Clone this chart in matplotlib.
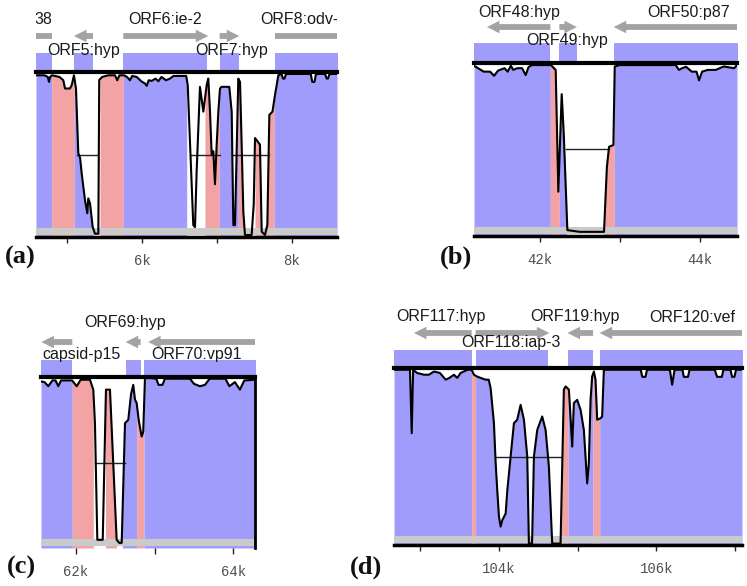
import numpy as np
import matplotlib
matplotlib.use('Agg')
import matplotlib.pyplot as plt
from matplotlib.patches import FancyArrowPatch

BLUE = '#a09cfc'
PINK = '#f3a3a3'
ARROW_GREY = '#a3a3a3'
BAR_GREY = '#cacaca'

# ---------------- panel (a) ----------------
a_xlim = (4587, 8600)
a_gene_start = [4300, 5093, 5751, 7035, 7773]
a_gene_end = [4800, 5347, 6884, 7297, 9300]
a_gene_strand = ['-', '-', '+', '+', '+']
a_labels = ['38', 'ORF5:hyp', 'ORF6:ie-2', 'ORF7:hyp', 'ORF8:odv-']
a_label_x = [4680, 5220, 6310, 7190, 8100]
a_label_row = ['top', 'low', 'top', 'low', 'top']
a_band_start = [4500, 5093, 5747, 7040, 7773]
a_band_end = [4800, 5347, 6867, 7290, 8700]
a_cns_start = [4587, 4796, 5098, 5440, 5751, 6840, 7031, 7284, 7507, 7764]
a_cns_end = [4796, 5098, 5351, 5751, 6596, 7031, 7284, 7373, 7764, 8600]
a_cns_kind = ['exon', 'cns', 'exon', 'cns', 'exon', 'cns', 'exon', 'cns', 'cns', 'exon']
a_thr_start = [5140, 6660, 7200]
a_thr_end = [5420, 7035, 7690]
a_pos = [4587, 4700, 4745, 4760, 4775, 4800, 4900, 4951, 4974, 5040, 5063, 5093,
         5120, 5151, 5175, 5196, 5240, 5271, 5284, 5307, 5343, 5373, 5418, 5430,
         5470, 5550, 5640, 5670, 5700, 5760, 5800, 5840, 5870, 5930, 5990, 6040,
         6063, 6090, 6130, 6180, 6218, 6260, 6320, 6373, 6420, 6590, 6610, 6684,
         6707, 6729, 6773, 6818, 6862, 6884, 6907, 6929, 6951, 6973, 6996, 7018,
         7040, 7060, 7164, 7196, 7218, 7240, 7284, 7307, 7329, 7351, 7373, 7462,
         7490, 7507, 7540, 7573, 7596, 7640, 7671, 7698, 7740, 7773, 7800, 7818,
         7860, 7880, 7900, 7920, 8250, 8270, 8300, 8320, 8440, 8462, 8480, 8500, 8600]
a_sim = [99, 99, 98.5, 97, 98.5, 99, 98.5, 97.5, 95, 95, 96, 99,
         95, 75.4, 74, 69.3, 61.2, 57.2, 61.7, 60.2, 53, 51, 51, 97.6,
         98.5, 99, 99, 97.5, 99, 99, 98.5, 97.5, 98.8, 98.5, 97.2, 96.5,
         95.8, 97.5, 97.3, 98, 97.2, 98.5, 97.5, 98, 98.8, 98.8, 96, 53.6,
         53, 70, 95.5, 88, 96, 98, 88, 75, 76, 66, 78, 88,
         95, 95.5, 95.5, 88, 53.6, 53.6, 98, 97, 78, 57.7, 50.6, 50.6,
         60, 80, 79, 78, 51.6, 50.6, 53.6, 87, 88, 93, 96.6, 99,
         99.4, 98, 98, 99.4, 99.4, 97, 97, 99.4, 99.4, 98, 98, 99.4, 99.4]

# ---------------- panel (b) ----------------
b_xlim = (41179, 44466)
b_gene_start = [41341, 42246, 42925]
b_gene_end = [42133, 42466, 45000]
b_gene_strand = ['-', '+', '-']
b_labels = ['ORF48:hyp', 'ORF49:hyp', 'ORF50:p87']
b_label_x = [41741, 42342, 43866]
b_label_row = ['top', 'low', 'top']
b_band_start = [41100, 42246, 42933]
b_band_end = [42133, 42466, 44600]
b_cns_start = [41179, 42133, 42246, 42800, 42933]
b_cns_end = [42133, 42246, 42334, 42933, 44466]
b_cns_kind = ['exon', 'cns', 'exon', 'cns', 'exon']
b_thr_start = [42330]
b_thr_end = [42870]
b_pos = [41179, 41230, 41300, 41380, 41430, 41480, 41560, 41600, 41640, 41670,
         41720, 41780, 41825, 41860, 41900, 42140, 42200, 42233, 42275, 42300,
         42346, 42500, 42804, 42840, 42867, 42921, 42938, 43000, 43700, 43740,
         43780, 43830, 43900, 43960, 43992, 44030, 44100, 44200, 44300, 44430, 44466]
b_sim = [99.2, 98.5, 97.5, 97.5, 96.3, 97.8, 98.5, 97.5, 99.2, 98,
         98.5, 98.5, 96.5, 98.8, 99.4, 99.4, 98, 62.8, 91, 80,
         51.7, 51.2, 51.2, 70, 75.8, 76.3, 99, 99.4, 99.4, 98,
         98.5, 98.9, 97.5, 97.5, 95, 97.5, 98, 98, 99, 98.5, 99.4]

# ---------------- panel (c) ----------------
c_xlim = (61555, 64276)
c_gene_start = [61560, 62631, 62917]
c_gene_end = [61953, 62822, 64600]
c_gene_strand = ['-', '-', '-']
c_labels = ['capsid-p15', 'ORF69:hyp', 'ORF70:vp91']
c_label_x = [62072, 62623, 63538]
c_label_row = ['low', 'top', 'low']
c_band_start = [61500, 62631, 62865]
c_band_end = [61953, 62822, 64400]
c_cns_start = [61555, 61953, 62375, 62590, 62771, 62865]
c_cns_end = [61953, 62220, 62515, 62771, 62865, 64276]
c_cns_kind = ['exon', 'cns', 'cns', 'exon', 'cns', 'exon']
c_thr_start = [62241]
c_thr_end = [62622]
c_pos = [61555, 61600, 61648, 61700, 61740, 61775, 61810, 61950, 62009, 62060,
         62178, 62220, 62241, 62271, 62340, 62381, 62432, 62517, 62550, 62581,
         62623, 62665, 62700, 62728, 62750, 62771, 62800, 62835, 62855, 62877,
         62950, 63020, 63050, 63100, 63130, 63450, 63500, 63576, 63640, 63700,
         63900, 63950, 64020, 64084, 64140, 64276]
c_sim = [98.7, 98.5, 97.3, 99, 99, 97.3, 99, 99, 97.3, 99.2,
         99.2, 96.3, 86.5, 52.4, 52.4, 96.3, 96.3, 52.4, 51.5, 51.5,
         86.5, 87.5, 95, 97.7, 93.4, 92.4, 87, 82.6, 84, 99.7,
         99.7, 99.5, 97.7, 97.7, 99.5, 99.5, 98, 97.3, 97.7, 99.5,
         99.5, 97.3, 98.5, 96.3, 99, 99.2]

# ---------------- panel (d) ----------------
d_xlim = (102667, 107086)
d_gene_start = [102920, 103703, 104870, 105279]
d_gene_end = [103653, 104640, 105195, 107600]
d_gene_strand = ['-', '+', '-', '-']
d_labels = ['ORF117:hyp', 'ORF118:iap-3', 'ORF119:hyp', 'ORF120:vef']
d_label_x = [103260, 104148, 104970, 106449]
d_label_row = ['top', 'low', 'top', 'top']
d_band_start = [102600, 103703, 104878, 105279]
d_band_end = [103653, 104625, 105195, 107200]
d_cns_start = [102667, 103653, 103703, 104782, 104878, 105195, 105279]
d_cns_end = [103653, 103703, 104782, 104878, 105195, 105279, 107086]
d_cns_kind = ['exon', 'cns', 'exon', 'cns', 'exon', 'cns', 'exon']
d_thr_start = [103958]
d_thr_end = [104790]
d_pos = [102667, 102870, 102892, 102910, 102960, 103048, 103110, 103175, 103250, 103323,
         103370, 103428, 103470, 103513, 103600, 103653, 103682, 103720, 103767, 103831,
         103870, 103894, 103936, 103958, 103978, 104000, 104021, 104042, 104085, 104106,
         104148, 104190, 104232, 104275, 104317, 104359, 104380, 104420, 104444, 104486,
         104549, 104592, 104634, 104676, 104782, 104824, 104846, 104888, 104930, 104951,
         104993, 105036, 105078, 105120, 105141, 105163, 105183, 105205, 105226, 105247,
         105290, 105310, 105332, 105800, 105820, 105860, 105880, 106170, 106199, 106230,
         106330, 106347, 106400, 106420, 106740, 106770, 106830, 106850, 106940, 106960,
         106990, 107010, 107086]
d_sim = [99.5, 99.5, 81.6, 99.5, 98.6, 98.1, 98.1, 99, 98.6, 96.7,
         97.2, 98.1, 97.2, 98.6, 99.5, 99.5, 98.1, 97.6, 97.2, 96.7,
         96.7, 94.3, 84.4, 73.1, 65.5, 58, 55.2, 57, 58.9, 65.5,
         75, 84.4, 85.4, 89.6, 85.4, 75, 50.4, 50.4, 75, 82.5,
         86.3, 82.5, 72.1, 50.4, 50.4, 93.9, 94.8, 93.9, 77.8, 90.1,
         91, 88.2, 82.5, 67.4, 73.1, 91, 97.6, 99, 96.7, 85.4,
         85.8, 86.3, 99.5, 99.5, 97.5, 97.5, 99.5, 99.5, 95.3, 99.5,
         99.5, 97.5, 97.5, 99.5, 99.5, 97.5, 97.5, 99.5, 99.5, 97.5,
         97.5, 99.5, 99.5]

W, H = 747, 586
fig = plt.figure(figsize=(W / 100, H / 100), dpi=100)


def draw_panel(box, xlim, pos, sim, band, cns, genes, labels, thr,
               bottom_line=True, right_frame=False):
    # box = pixel layout: left, right, axes top, y of 100%, y of 50%, band top, arrow, label rows
    x0, x1, ytop, y100, y50, yband, yarrow, ylab_top, ylab_low = box
    scale = (y50 - y100) / 50.0
    to_pct = lambda py: 100 + (y100 - py) / scale
    ymax = to_pct(ytop)

    ax = fig.add_axes([x0 / W, 1 - y50 / H, (x1 - x0) / W, (y50 - ytop) / H])
    ax.set_xlim(*xlim)
    ax.set_ylim(50, ymax)
    for s in ax.spines.values():
        s.set_visible(False)

    # exon band above the plot
    for s, e in zip(*band):
        ax.fill_between([s, e], 100, to_pct(yband), color=BLUE, lw=0, zorder=1)

    # conserved regions filled under the curve
    pos = np.asarray(pos, float)
    sim = np.asarray(sim, float)
    for s, e, k in zip(*cns):
        xx = np.linspace(s, e, 300)
        yy = np.interp(xx, pos, sim)
        ax.fill_between(xx, 50, yy, color=BLUE if k == 'exon' else PINK, lw=0, zorder=1)

    # 75% threshold line
    for s, e in zip(*thr):
        ax.plot([s, e], [75, 75], color='#222222', lw=1.0, zorder=2)

    # grey bar at the bottom
    ax.fill_between(list(xlim), 50.7, 52.6, color=BAR_GREY, lw=0, zorder=2.5)

    ax.plot(pos, sim, color='black', lw=1.5, zorder=3)
    ax.plot(list(xlim), [100, 100], color='black', lw=3, zorder=4, clip_on=False)
    if bottom_line:
        ax.plot(list(xlim), [50, 50], color='black', lw=2.5, zorder=4, clip_on=False)
    if right_frame:
        ax.plot([xlim[1], xlim[1]], [50, 100], color='black', lw=2, zorder=4, clip_on=False)

    # gene arrows
    ya = to_pct(yarrow)
    for s, e, st in zip(*genes):
        tail, head = (s, e) if st == '+' else (e, s)
        arr = FancyArrowPatch((tail, ya), (head, ya),
                              arrowstyle='simple,head_length=0.9,head_width=0.9,tail_width=0.42',
                              mutation_scale=10, color=ARROW_GREY, lw=0,
                              shrinkA=0, shrinkB=0, zorder=3)
        ax.add_patch(arr)

    for txt, lx, row in zip(*labels):
        ly = to_pct(ylab_top if row == 'top' else ylab_low)
        ax.text(lx, ly, txt, ha='center', va='center', fontsize=11.5,
                family='Liberation Sans', color='#1a1a1a', clip_on=True, zorder=5)

    ticks = list(range(int(np.ceil(xlim[0] / 1000.0)) * 1000, int(xlim[1]) + 1, 1000))
    ax.set_xticks(ticks)
    ax.set_xticklabels([f'{t // 1000}k' if t % 2000 == 0 else '' for t in ticks],
                       family='Liberation Mono', fontsize=10, color='#505050')
    ax.tick_params(axis='x', length=4, width=1, direction='out', pad=8, color='#222222')
    ax.set_yticks([])
    return ax


draw_panel((36, 337, 5, 72, 237, 53, 36, 20, 50), a_xlim, a_pos, a_sim,
           (a_band_start, a_band_end), (a_cns_start, a_cns_end, a_cns_kind),
           (a_gene_start, a_gene_end, a_gene_strand), (a_labels, a_label_x, a_label_row),
           (a_thr_start, a_thr_end))
draw_panel((474, 737, 0, 63, 236, 43, 27, 13, 40), b_xlim, b_pos, b_sim,
           (b_band_start, b_band_end), (b_cns_start, b_cns_end, b_cns_kind),
           (b_gene_start, b_gene_end, b_gene_strand), (b_labels, b_label_x, b_label_row),
           (b_thr_start, b_thr_end))
draw_panel((41, 255, 300, 377, 548, 360, 342, 323, 355), c_xlim, c_pos, c_sim,
           (c_band_start, c_band_end), (c_cns_start, c_cns_end, c_cns_kind),
           (c_gene_start, c_gene_end, c_gene_strand), (c_labels, c_label_x, c_label_row),
           (c_thr_start, c_thr_end), bottom_line=False, right_frame=True)
draw_panel((394, 742, 295, 368, 545, 350, 333, 317, 343), d_xlim, d_pos, d_sim,
           (d_band_start, d_band_end), (d_cns_start, d_cns_end, d_cns_kind),
           (d_gene_start, d_gene_end, d_gene_strand), (d_labels, d_label_x, d_label_row),
           (d_thr_start, d_thr_end))

# panel letters
for lab, px, py in [('(a)', 20, 257), ('(b)', 456, 257), ('(c)', 21, 567), ('(d)', 366, 567)]:
    fig.text(px / W, 1 - py / H, lab, ha='center', va='center', fontsize=19,
             fontweight='bold', family='Liberation Serif', color='#111111')

fig.savefig('out.png', dpi=100)
